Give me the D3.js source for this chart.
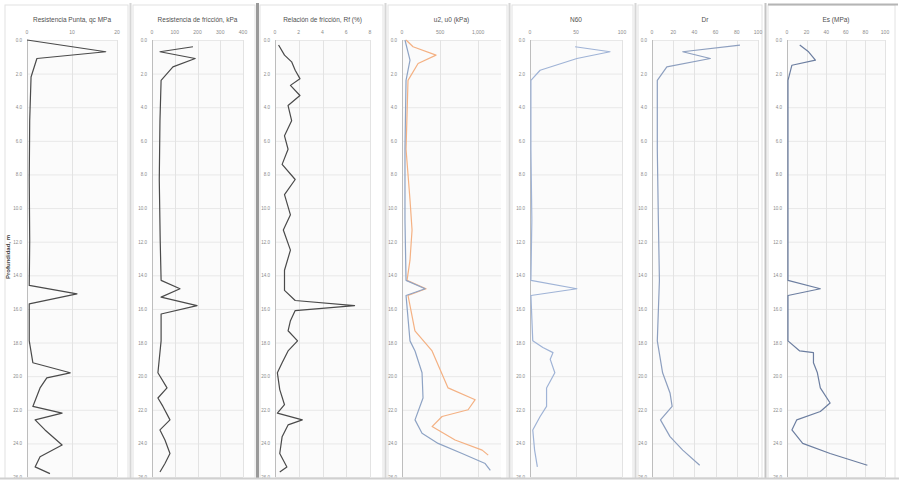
<!DOCTYPE html>
<html>
<head>
<meta charset="utf-8">
<script src="https://cdn.jsdelivr.net/npm/d3@7"></script>
<style>
  body { margin: 0; background: #fff; }
  text { font-family: "Liberation Sans", Arial, sans-serif; }
</style>
</head>
<body>
<script>
// depth axis (m), shared by all panels
var depthTicks = [0, 2, 4, 6, 8, 10, 12, 14, 16, 18, 20, 22, 24, 26];

var titles = [
  "Resistencia Punta, qc MPa",
  "Resistencia de fricción, kPa",
  "Relación de fricción, Rf (%)",
  "u2, u0 (kPa)",
  "N60",
  "Dr",
  "Es (MPa)"
];

var xTicks = [
  [0, 10, 20],
  [0, 100, 200, 300, 400],
  [0, 2, 4, 6, 8],
  [0, 500, 1000],
  [0, 50, 100],
  [0, 20, 40, 60, 80, 100],
  [0, 20, 40, 60, 80, 100]
];

// [depth, value]
var qc = [[0,0],[0.7,17.5],[1.1,2.2],[2.2,0.9],[4.8,0.6],[8.3,0.5],[11.9,0.6],[14.6,0.5],[15.1,11.1],[15.7,0.5],
  [17.9,0.5],[19.2,1.3],[19.8,9.6],[20.1,4.4],[20.7,2.9],[21.8,1.3],[22.2,7.8],[22.6,1.8],[23.2,4],[24.1,7.8],
  [24.8,2.9],[25.4,1.8],[25.8,5.1]];

var fs = [[0.4,180],[0.7,35],[1.1,190],[1.6,92],[2.4,40],[4.8,35],[8.3,32],[11.9,36],[14.3,40],[14.8,123],
  [15.3,40],[15.8,198],[16.3,40],[17.9,40],[19.8,26],[20.7,66],[21.3,26],[21.8,48],[22.6,79],[23.2,35],
  [23.8,57],[24.6,79],[25.2,57],[25.7,35]];

var rf = [[0.3,0.3],[0.9,0.8],[1.3,1.4],[1.8,1.7],[2.3,2.1],[2.7,1.3],[3.3,2.1],[3.9,1.1],[4.8,1.4],[5.7,0.8],
  [6.5,1.1],[7.4,0.6],[8.3,1.7],[9.2,0.8],[10.4,1.3],[11.3,0.7],[12.5,1.3],[13.7,0.8],[14.9,0.8],[15.5,1.7],
  [15.8,6.7],[16.1,1.7],[16.7,1.3],[17.3,1.1],[17.9,1.9],[18.5,1.1],[19.2,0.6],[19.8,0.2],[20.8,0.4],[21.7,0.8],
  [22.2,0.2],[22.6,2.3],[22.9,1.1],[23.6,0.6],[24.6,0.4],[25.4,1.0],[25.7,0.4]];

var u2 = [[0,39],[1.2,105],[2.4,53],[6.5,39],[10.7,39],[14.3,53],[14.8,303],[15.2,53],[17.9,105],[18.5,171],
  [19.8,263],[21.3,276],[22.6,171],[23.4,263],[24.0,474],[24.6,789],[25.2,1092],[25.6,1160]];

var u0 = [[0,53],[0.4,145],[0.9,447],[1.4,211],[2.4,79],[6.5,53],[9.5,105],[11.3,132],[13.1,105],[14.3,66],
  [14.8,316],[15.2,79],[17.3,170],[18.5,395],[19.6,500],[20.7,605],[21.4,961],[22.0,868],[22.4,526],[23.0,395],
  [23.8,697],[24.4,1053],[24.7,1132]];

var n60 = [[0.4,49],[0.7,87],[1.1,51],[1.8,11],[2.4,1],[6.5,1],[10.7,2],[14.3,1],[14.8,51],[15.2,1],
  [17.9,3],[18.3,14],[18.6,25],[19.0,22],[19.8,27],[20.7,18],[21.8,18],[22.4,11],[23.2,3],[24.4,5],[25.4,8]];

var dr = [[0.3,83],[0.7,29],[1.1,55],[1.6,14],[2.4,5],[6.5,5],[10.7,6],[14.3,7],[17.9,5],[19.8,10],
  [21.0,17],[21.8,19],[22.6,8],[23.6,17],[24.4,29],[25.3,45]];

var es = [[0.3,13],[0.7,22],[1.2,29],[1.5,5],[2.4,1],[6.5,1],[10.7,1],[14.3,1],[14.8,34],[15.2,1],
  [17.9,1],[18.5,13],[18.6,27],[19.2,27],[19.8,31],[20.7,34],[21.6,44],[22.1,34],[22.6,10],[23.2,5],
  [24.0,16],[24.6,44],[25.3,82]];

var width = 899, height = 480;
var plotTop = 40, plotBottom = 477;

var panels = [
  { left: 5,   right: 128, x0: 27,  x1: 117, domain: [0, 20],   series: [{ data: qc,  color: "#4a4a4a" }] },
  { left: 133, right: 255, x0: 152, x1: 243, domain: [0, 400],  series: [{ data: fs,  color: "#4a4a4a" }] },
  { left: 260, right: 383, x0: 275, x1: 370, domain: [0, 8],    series: [{ data: rf,  color: "#4a4a4a" }] },
  { left: 388, right: 507, x0: 402, x1: 501, domain: [0, 1300], series: [{ data: u0,  color: "#f4b183" },
                                                                          { data: u2,  color: "#8ea3c4" }] },
  { left: 512, right: 633, x0: 530, x1: 622, domain: [0, 100],  series: [{ data: n60, color: "#9fb3d6" }] },
  { left: 638, right: 762, x0: 652, x1: 758, domain: [0, 100],  series: [{ data: dr,  color: "#8d9fbf" }] },
  { left: 768, right: 895, x0: 787, x1: 885, domain: [0, 100],  series: [{ data: es,  color: "#6c7ea0" }] }
];

var svg = d3.select("body").append("svg")
  .attr("width", width)
  .attr("height", height);

var y = d3.scaleLinear()
  .domain([0, 26])
  .range([plotTop, plotBottom]);

svg.append("defs").append("clipPath")
  .attr("id", "clipAll")
  .append("rect")
  .attr("x", 0).attr("y", 0).attr("width", width).attr("height", 478);

panels.forEach(function(p, i) {
  var g = svg.append("g").attr("clip-path", "url(#clipAll)");

  g.append("rect")
    .attr("x", p.left).attr("y", 5)
    .attr("width", p.right - p.left).attr("height", 478)
    .attr("fill", "#fff")
    .attr("stroke", "#e2e2e2");

  var x = d3.scaleLinear().domain(p.domain).range([p.x0, p.x1]);

  // plot area
  g.append("rect")
    .attr("x", p.x0).attr("y", plotTop)
    .attr("width", p.x1 - p.x0).attr("height", plotBottom - plotTop)
    .attr("fill", "#fbfbfb");

  g.selectAll(".hgrid")
    .data(depthTicks)
    .enter().append("line")
    .attr("x1", p.x0).attr("x2", p.x1)
    .attr("y1", function(d) { return y(d) + 0.5; })
    .attr("y2", function(d) { return y(d) + 0.5; })
    .attr("stroke", "#e8e8e8");

  g.selectAll(".vgrid")
    .data(xTicks[i])
    .enter().append("line")
    .attr("x1", function(d) { return Math.round(x(d)) + 0.5; })
    .attr("x2", function(d) { return Math.round(x(d)) + 0.5; })
    .attr("y1", plotTop).attr("y2", plotBottom)
    .attr("stroke", function(d, j) { return j == 0 ? "#bdbdbd" : "#e3e3e3"; });

  // x tick labels
  g.selectAll(".xl")
    .data(xTicks[i])
    .enter().append("text")
    .attr("x", function(d) { return x(d); })
    .attr("y", 34)
    .attr("text-anchor", "middle")
    .attr("font-size", 5)
    .attr("fill", "#8a8a8a")
    .text(function(d) { return d3.format(",")(d); });

  // y tick labels
  g.selectAll(".yl")
    .data(depthTicks)
    .enter().append("text")
    .attr("x", p.x0 - 5)
    .attr("y", function(d) { return y(d) + 2; })
    .attr("text-anchor", "end")
    .attr("font-size", 4.5)
    .attr("fill", "#8a8a8a")
    .text(function(d) { return d3.format(".1f")(d); });

  g.append("text")
    .attr("x", (p.x0 + p.x1) / 2)
    .attr("y", 22)
    .attr("text-anchor", "middle")
    .attr("font-size", 6.5)
    .attr("fill", "#505050")
    .text(titles[i]);

  var line = d3.line()
    .x(function(d) { return x(d[1]); })
    .y(function(d) { return y(d[0]); });

  p.series.forEach(function(s) {
    g.append("path")
      .datum(s.data)
      .attr("d", line)
      .attr("fill", "none")
      .attr("stroke", s.color)
      .attr("stroke-width", 1.2)
      .attr("stroke-linejoin", "round");
  });
});

// separators between the panels
var seps = [
  { x: 130.5, w: 2, c: "#d6d6d6" },
  { x: 257.5, w: 3, c: "#9a9a9a" },
  { x: 385.5, w: 2, c: "#d6d6d6" },
  { x: 509.5, w: 2, c: "#d6d6d6" },
  { x: 635.5, w: 2, c: "#d6d6d6" },
  { x: 765.5, w: 2, c: "#c4c4c4" }
];
svg.selectAll(".sep")
  .data(seps)
  .enter().append("line")
  .attr("x1", function(d) { return d.x; })
  .attr("x2", function(d) { return d.x; })
  .attr("y1", 3).attr("y2", 478)
  .attr("stroke", function(d) { return d.c; })
  .attr("stroke-width", function(d) { return d.w; });

svg.append("line")
  .attr("x1", 768).attr("x2", 898)
  .attr("y1", 4.5).attr("y2", 4.5)
  .attr("stroke", "#b5b5b5").attr("stroke-width", 2);

svg.append("line")
  .attr("x1", 0).attr("x2", width)
  .attr("y1", 478.5).attr("y2", 478.5)
  .attr("stroke", "#d0d0d0").attr("stroke-width", 2);

svg.append("text")
  .attr("transform", "translate(10,257) rotate(-90)")
  .attr("text-anchor", "middle")
  .attr("font-size", 6)
  .attr("font-weight", "bold")
  .attr("fill", "#444")
  .text("Profundidad, m");
</script>
</body>
</html>
